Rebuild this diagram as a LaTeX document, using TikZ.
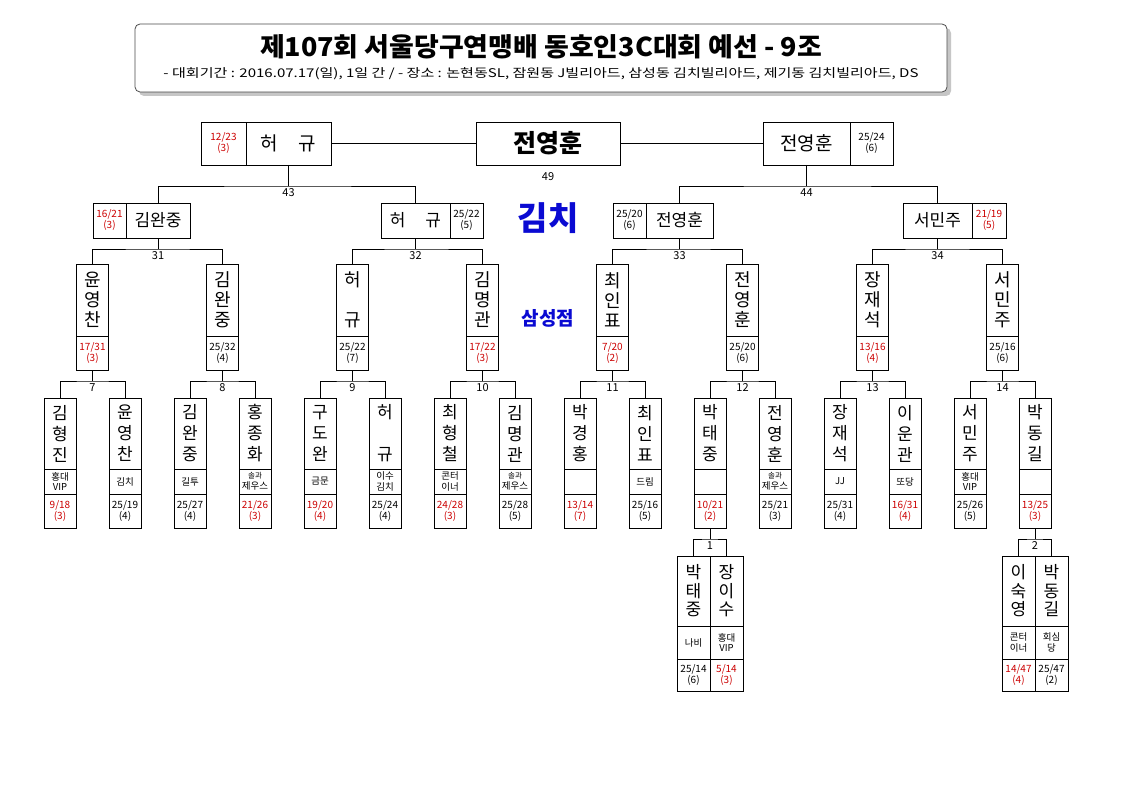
\documentclass[tikz,border=0pt]{standalone}
\usepackage{fontspec}
\setmainfont{Noto Sans CJK KR}
\definecolor{lose}{RGB}{204,0,0}
\definecolor{venue}{RGB}{10,10,210}
\newcommand{\rowthree}[5]{%
  \node[cell, minimum width=32pt, minimum height=72pt, nm3] (#1) at (#2,300) {#3};
  \node[cell, minimum width=32pt, minimum height=34pt, sc, text=#5] (#1s) at (#2,353) {#4};}
\newcommand{\rowfour}[6]{%
  \node[cell, minimum width=32pt, minimum height=71pt, nm4] (#1) at (#2,433.5) {#3};
  \node[cell, minimum width=32pt, minimum height=25pt, club] (#1c) at (#2,481.5) {#4};
  \node[cell, minimum width=32pt, minimum height=34pt, sc, text=#6] (#1s) at (#2,511) {#5};}
\newcommand{\rowsub}[6]{%
  \node[cell, minimum width=33pt, minimum height=70pt, nms] (#1) at (#2,591) {#3};
  \node[cell, minimum width=33pt, minimum height=33pt, club] (#1c) at (#2,642.5) {#4};
  \node[cell, minimum width=33pt, minimum height=32pt, sc, text=#6] (#1s) at (#2,675) {#5};}
\newcommand{\brk}[5]{%
  \coordinate (k#5) at (#1.south |- 0,#4);
  \draw[conn] (#1.south) -- (k#5);
  \draw[conn] (#2.north) |- (k#5) -| (#3.north);
  \node[num] (lab#5) at ([yshift=-7pt]k#5) {#5};}
\newcommand{\sml}{\fontsize{7.5}{9}\selectfont}
\begin{document}
\begin{tikzpicture}[x=1pt,y=-1pt,
  cell/.style={draw, line width=0.8pt, inner sep=0pt, outer sep=0pt},
  conn/.style={line width=0.8pt},
  num/.style={font=\fontsize{11}{12}\selectfont, inner sep=0pt},
  sc/.style={font=\fontsize{10}{11}\selectfont, align=center},
  club/.style={font=\fontsize{9.5}{10.5}\selectfont, align=center},
  nm1/.style={font=\fontsize{19}{20}\selectfont},
  nm2/.style={font=\fontsize{17}{18}\selectfont},
  nm3/.style={font=\fontsize{18}{20}\selectfont, align=center},
  nm4/.style={font=\fontsize{17}{21}\selectfont, align=center},
  nms/.style={font=\fontsize{17}{18.5}\selectfont, align=center}]
\useasboundingbox (0,0) rectangle (1123,794);
\fill[white] (0,0) rectangle (1123,794);
% header
\fill[gray!45, rounded corners=5pt] (139,28) rectangle (951,96);
\draw[rounded corners=5pt, fill=white, draw=gray!60!black, line width=0.8pt] (135,24) rectangle (947,92);
\node[inner sep=0pt] (title) at (541,47) {\resizebox{562pt}{\height}{\fontsize{26}{30}\selectfont\bfseries 제107회 서울당구연맹배 동호인3C대회 예선 - 9조}};
\node[inner sep=0pt] (sub) at (541,74) {\resizebox{755pt}{\height}{\fontsize{12}{13}\selectfont - 대회기간 : 2016.07.17(일), 1일 간 / - 장소 : 논현동SL, 잠원동 J빌리아드, 삼성동 김치빌리아드, 제기동 김치빌리아드, DS}};
% row 1
\node[cell, minimum width=45pt, minimum height=43pt, sc, text=lose] (L1s) at (223.5,143.5) {12/23\\(3)};
\node[cell, minimum width=85pt, minimum height=43pt, nm1] (L1n) at (288.5,143.5) {허\hspace{21pt}규};
\node[cell, minimum width=144pt, minimum height=43pt, font=\fontsize{25}{26}\selectfont\bfseries] (W) at (548,143.5) {전영훈};
\node[cell, minimum width=87pt, minimum height=43pt, nm1] (R1n) at (806.5,143.5) {전영훈};
\node[cell, minimum width=43pt, minimum height=43pt, sc] (R1s) at (871.5,143.5) {25/24\\(6)};
\draw[conn] (L1n.east) -- (W.west);
\draw[conn] (W.east) -- (R1n.west);
\node[num] (lab49) at (548,177) {49};
% row 2
\node[cell, minimum width=33pt, minimum height=35pt, sc, text=lose] (As) at (109.5,220.5) {16/21\\(3)};
\node[cell, minimum width=64pt, minimum height=35pt, nm2] (A) at (158,220.5) {김완중};
\node[cell, minimum width=69pt, minimum height=35pt, nm2] (B) at (415.5,220.5) {허\hspace{20pt}규};
\node[cell, minimum width=33pt, minimum height=35pt, sc] (Bs) at (466.5,220.5) {25/22\\(5)};
\node[cell, minimum width=33pt, minimum height=35pt, sc] (Cs) at (629.5,220.5) {25/20\\(6)};
\node[cell, minimum width=67pt, minimum height=35pt, nm2] (Cc) at (679.5,220.5) {전영훈};
\node[cell, minimum width=69pt, minimum height=35pt, nm2] (D) at (937.5,220.5) {서민주};
\node[cell, minimum width=34pt, minimum height=35pt, sc, text=lose] (Ds) at (989,220.5) {21/19\\(5)};
\node[text=venue, font=\fontsize{33}{34}\selectfont\bfseries] (kimchi) at (548,218) {김치};
\node[text=venue, font=\fontsize{19}{20}\selectfont\bfseries] (samsung) at (548,318) {삼성점};
% row 3
\rowthree{T1}{92.5}{윤\\영\\찬}{17/31\\(3)}{lose}
\rowthree{T2}{222.5}{김\\완\\중}{25/32\\(4)}{black}
\rowthree{T3}{352.5}{허\\\mbox{}\\규}{25/22\\(7)}{black}
\rowthree{T4}{482.5}{김\\명\\관}{17/22\\(3)}{lose}
\rowthree{T5}{612.5}{최\\인\\표}{7/20\\(2)}{lose}
\rowthree{T6}{742.5}{전\\영\\훈}{25/20\\(6)}{black}
\rowthree{T7}{872.5}{장\\재\\석}{13/16\\(4)}{lose}
\rowthree{T8}{1002.5}{서\\민\\주}{25/16\\(6)}{black}
% row 4
\rowfour{F0}{60}{김\\형\\진}{홍대\\VIP}{9/18\\(3)}{lose}
\rowfour{F1}{125}{윤\\영\\찬}{김치}{25/19\\(4)}{black}
\rowfour{F2}{190}{김\\완\\중}{길투}{25/27\\(4)}{black}
\rowfour{F3}{255}{홍\\종\\화}{{\sml 솔과}\\제우스}{21/26\\(3)}{lose}
\rowfour{F4}{320}{구\\도\\완}{금문}{19/20\\(4)}{lose}
\rowfour{F5}{385}{허\\\mbox{}\\규}{이수\\김치}{25/24\\(4)}{black}
\rowfour{F6}{450}{최\\형\\철}{콘터\\이너}{24/28\\(3)}{lose}
\rowfour{F7}{515}{김\\명\\관}{{\sml 솔과}\\제우스}{25/28\\(5)}{black}
\rowfour{F8}{580}{박\\경\\홍}{}{13/14\\(7)}{lose}
\rowfour{F9}{645}{최\\인\\표}{드림}{25/16\\(5)}{black}
\rowfour{F10}{710}{박\\태\\중}{}{10/21\\(2)}{lose}
\rowfour{F11}{775}{전\\영\\훈}{{\sml 솔과}\\제우스}{25/21\\(3)}{black}
\rowfour{F12}{840}{장\\재\\석}{JJ}{25/31\\(4)}{black}
\rowfour{F13}{905}{이\\운\\관}{또당}{16/31\\(4)}{lose}
\rowfour{F14}{970}{서\\민\\주}{홍대\\VIP}{25/26\\(5)}{black}
\rowfour{F15}{1035}{박\\동\\길}{}{13/25\\(3)}{lose}
% sub matches
\rowsub{S1a}{693.5}{박\\태\\중}{나비}{25/14\\(6)}{black}
\rowsub{S1b}{726.5}{장\\이\\수}{홍대\\VIP}{5/14\\(3)}{lose}
\rowsub{S2a}{1018.5}{이\\숙\\영}{콘터\\이너}{14/47\\(4)}{lose}
\rowsub{S2b}{1051.5}{박\\동\\길}{회심\\당}{25/47\\(2)}{black}
% brackets
\brk{L1n}{A}{B}{186}{43}
\brk{R1n}{Cc}{D}{186}{44}
\brk{A}{T1}{T2}{249}{31}
\brk{B}{T3}{T4}{249}{32}
\brk{Cc}{T5}{T6}{249}{33}
\brk{D}{T7}{T8}{249}{34}
\brk{T1s}{F0}{F1}{381}{7}
\brk{T2s}{F2}{F3}{381}{8}
\brk{T3s}{F4}{F5}{381}{9}
\brk{T4s}{F6}{F7}{381}{10}
\brk{T5s}{F8}{F9}{381}{11}
\brk{T6s}{F10}{F11}{381}{12}
\brk{T7s}{F12}{F13}{381}{13}
\brk{T8s}{F14}{F15}{381}{14}
\brk{F10s}{S1a}{S1b}{539}{1}
\brk{F15s}{S2a}{S2b}{539}{2}
\end{tikzpicture}
\end{document}
